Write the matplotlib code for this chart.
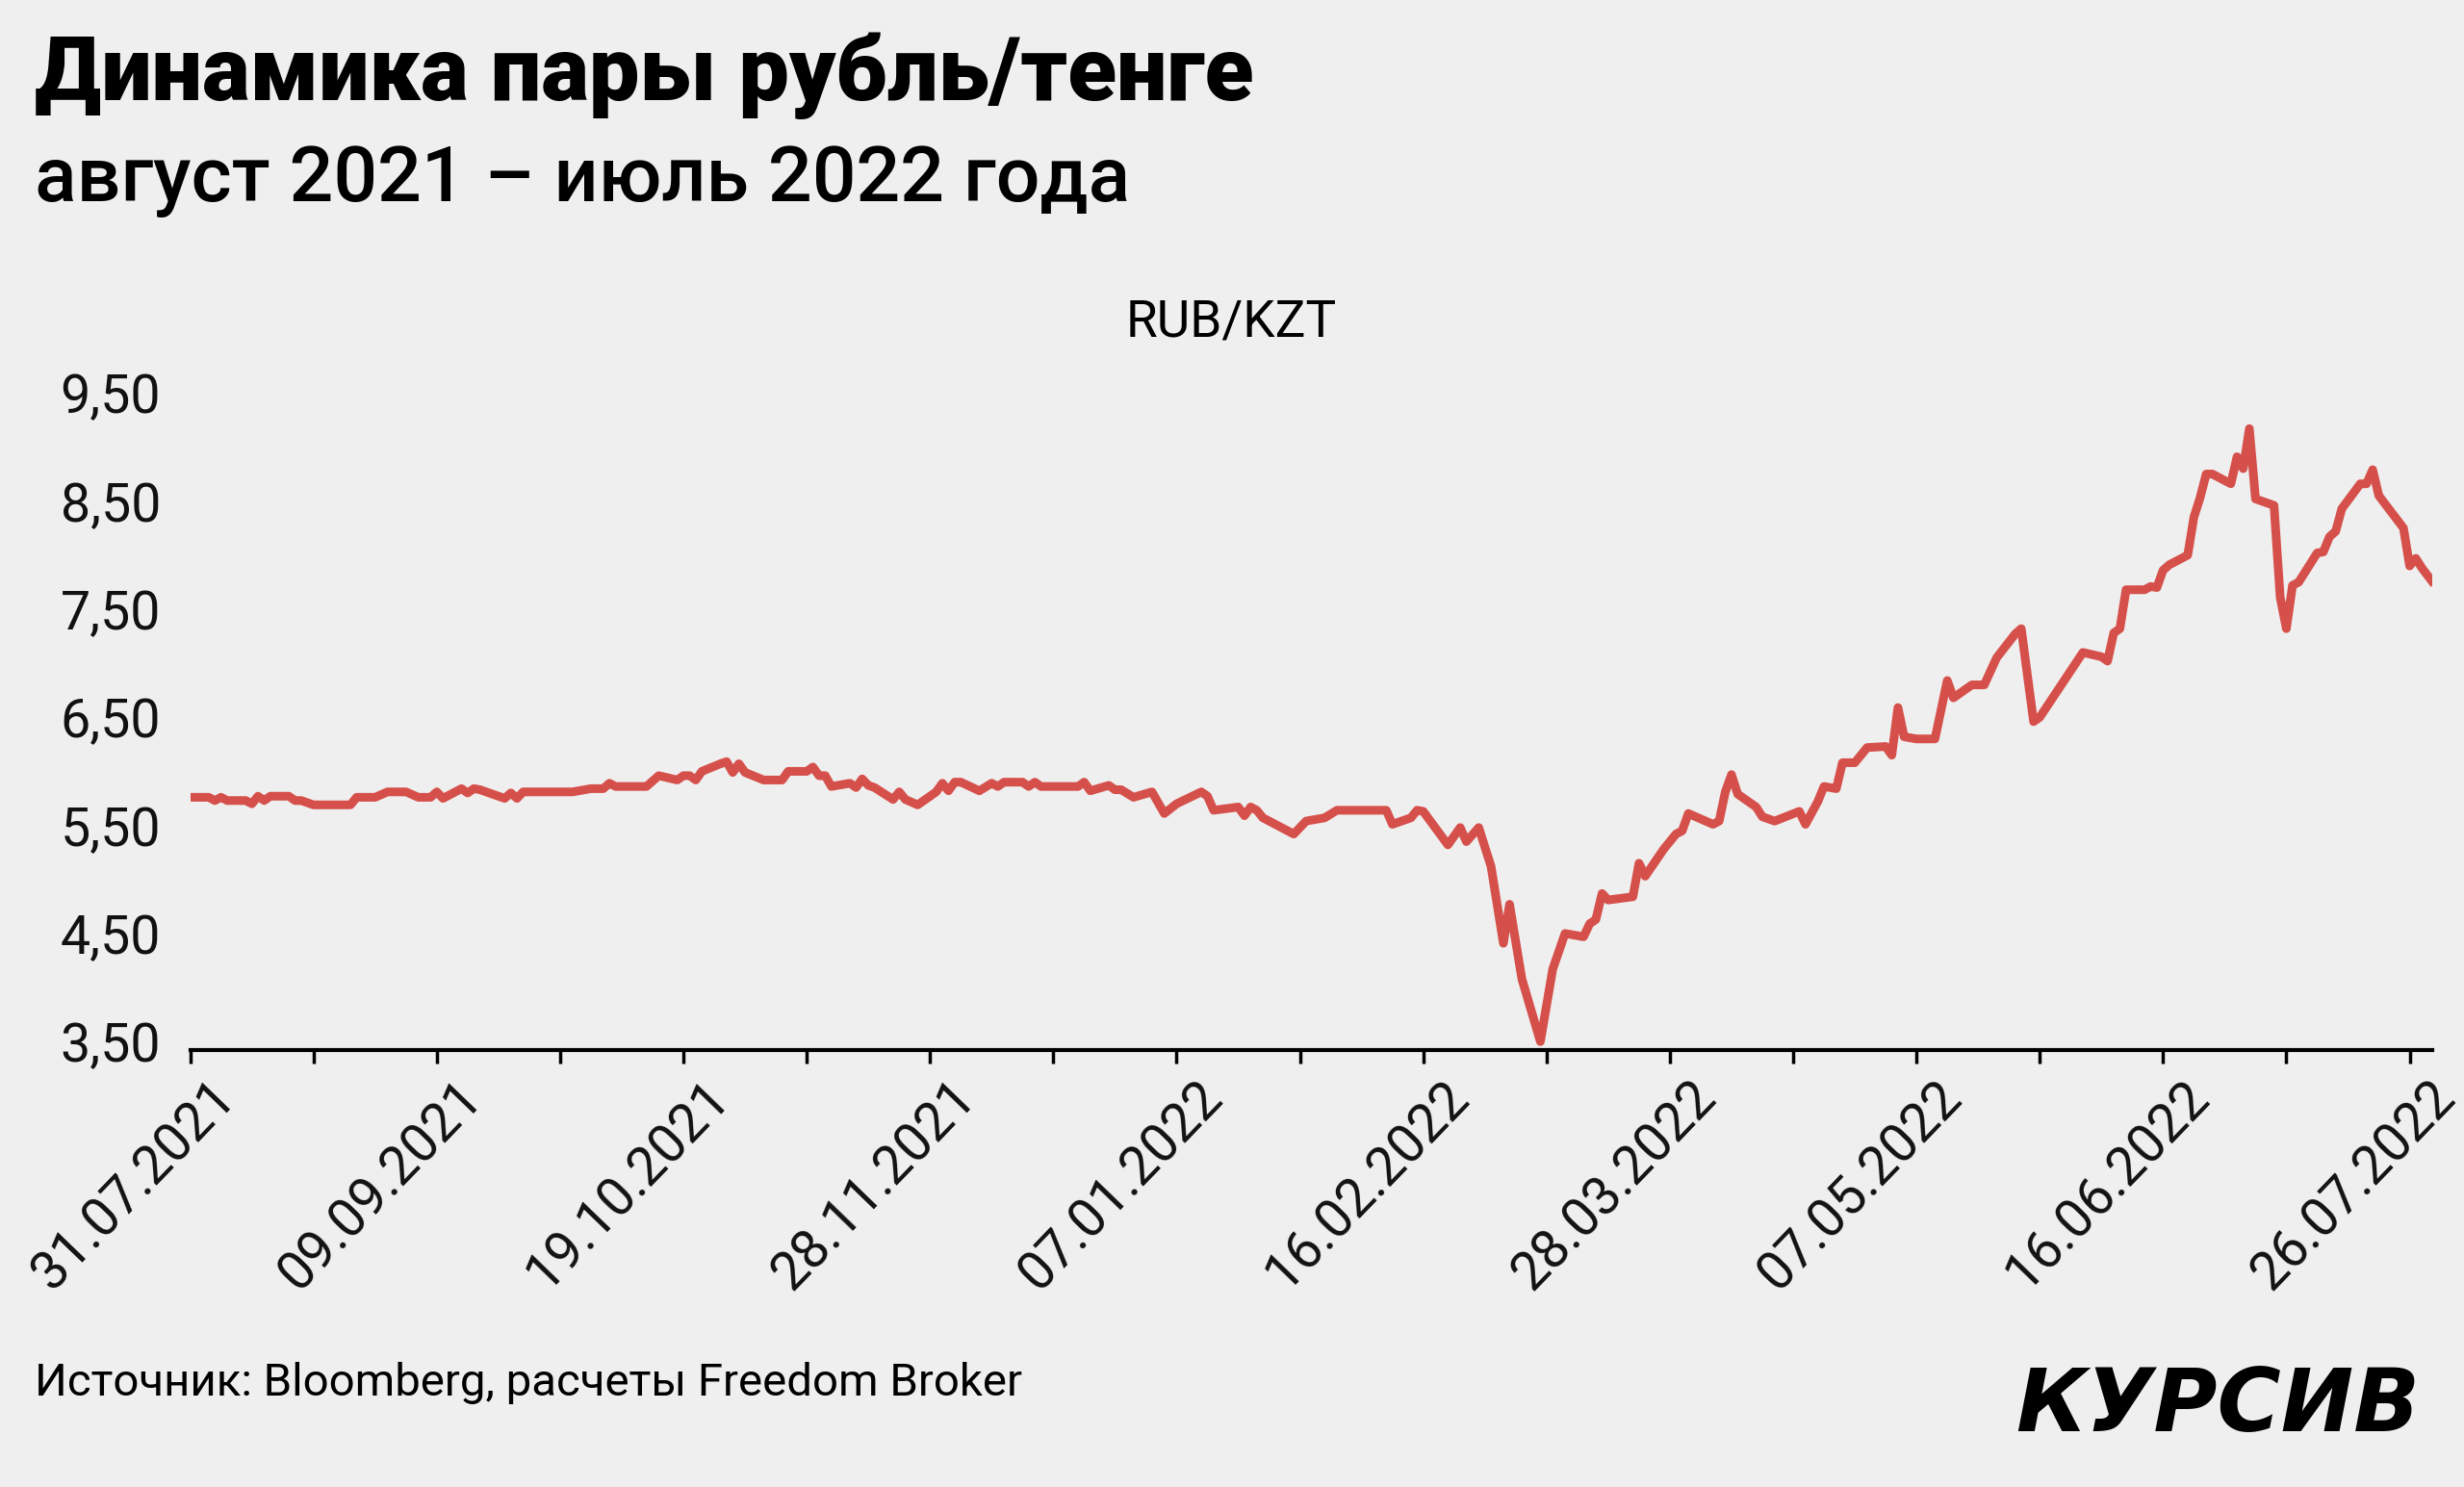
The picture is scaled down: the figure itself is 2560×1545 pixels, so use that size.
import datetime as dt
import numpy as np
import matplotlib
matplotlib.use("Agg")
import matplotlib.pyplot as plt
import matplotlib.dates as mdates
import matplotlib.transforms as mtransforms
from matplotlib import font_manager as fm

# ---------------- data ----------------
start_date = "2021-07-31"
day_offsets = [
    0, 3, 4, 5, 6, 9, 10, 11, 12, 13, 16, 17, 18, 20, 26, 27, 30, 32, 35, 37,
    39, 40, 41, 44, 45, 46, 47, 51, 52, 53, 54, 62, 65, 67, 68, 69, 74, 76,
    79, 80, 81, 82, 83, 86, 87, 88, 89, 90, 93, 96, 97, 100, 101, 102, 103, 104,
    107, 108, 109, 110, 111, 114, 115, 116, 118, 121, 122, 123, 124, 125, 128,
    130, 131, 132, 135, 136, 137, 138, 144, 145, 146, 149, 150, 151,
    153, 156, 158, 160, 164, 165, 166, 170, 171, 172, 173, 174, 177, 179, 181,
    184, 186, 194, 195, 198, 199, 200, 204, 206, 207, 209, 211, 213, 214, 216,
    219, 221, 223, 226, 227, 228, 229, 230, 234, 235, 236, 239, 241, 242, 243,
    247, 248, 249, 250, 251, 254, 255, 257, 261, 262, 264, 265, 267, 268, 270,
    272, 275, 276, 277, 278, 280, 283, 285, 286, 289, 291, 293, 296, 297, 299,
    300, 307, 310, 311, 312, 313, 314, 317, 318, 319, 320, 321, 324, 325, 326,
    327, 328, 331, 332, 333, 334, 335, 338, 339, 340, 341, 342, 345, 346, 347,
    348, 349, 352, 353, 354, 355, 359, 360, 361, 362, 364,
]
rub_kzt = [
    5.76, 5.76, 5.73, 5.76, 5.73, 5.73, 5.70, 5.77, 5.73, 5.77, 5.77, 5.73, 5.73, 5.69, 5.69, 5.76, 5.76, 5.81, 5.81, 5.76,
    5.76, 5.81, 5.75, 5.84, 5.80, 5.84, 5.83, 5.75, 5.80, 5.75, 5.81, 5.81, 5.84, 5.84, 5.89, 5.86, 5.86, 5.96,
    5.92, 5.96, 5.96, 5.92, 6.00, 6.07, 6.09, 5.99, 6.07, 5.99, 5.92, 5.92, 6.00, 6.00, 6.04, 5.96, 5.96, 5.86,
    5.89, 5.85, 5.93, 5.87, 5.85, 5.74, 5.81, 5.74, 5.69, 5.81, 5.89, 5.82, 5.90, 5.90, 5.82,
    5.89, 5.86, 5.90, 5.90, 5.86, 5.90, 5.86, 5.86, 5.90, 5.82, 5.87, 5.83, 5.83,
    5.76, 5.81, 5.61, 5.70, 5.81, 5.77, 5.64, 5.67, 5.59, 5.67, 5.64, 5.57, 5.48, 5.42, 5.54,
    5.57, 5.64, 5.64, 5.51, 5.57, 5.64, 5.63, 5.32, 5.48, 5.35, 5.48, 5.12, 4.41, 4.77, 4.08,
    3.50, 4.17, 4.50, 4.47, 4.59, 4.63, 4.87, 4.81, 4.84, 5.15, 5.03, 5.28, 5.42, 5.45, 5.61,
    5.51, 5.54, 5.81, 5.97, 5.79, 5.67, 5.58, 5.54, 5.63, 5.51, 5.72, 5.86, 5.84, 6.08, 6.08,
    6.22, 6.23, 6.15, 6.59, 6.32, 6.30, 6.30, 6.84, 6.68, 6.80, 6.80, 7.05, 7.27, 7.32, 6.46,
    6.50, 7.10, 7.06, 7.02, 7.28, 7.32, 7.68, 7.68, 7.71, 7.70, 7.86, 7.91, 8.00, 8.35, 8.53,
    8.75, 8.75, 8.66, 8.91, 8.80, 9.17, 8.52, 8.46, 7.61, 7.32, 7.72, 7.75, 8.02, 8.03, 8.17,
    8.22, 8.43, 8.66, 8.66, 8.79, 8.55, 8.25, 7.90, 7.97, 7.88, 7.73,
]
ytick_values = [3.5, 4.5, 5.5, 6.5, 7.5, 8.5, 9.5]
ytick_labels = ["3,50", "4,50", "5,50", "6,50", "7,50", "8,50", "9,50"]
xtick_labels = ["31.07.2021", "09.09.2021", "19.10.2021", "28.11.2021", "07.01.2022",
                "16.02.2022", "28.03.2022", "07.05.2022", "16.06.2022", "26.07.2022"]

title = "Динамика пары рубль/тенге"
subtitle = "август 2021 – июль 2022 года"
unit_label = "RUB/KZT"
source = "Источник: Bloomberg, расчеты Freedom Broker"
logo = "КУРСИВ"

# ---------------- style ----------------
BG = "#efefef"
RED = "#d6504b"

avail = {f.name for f in fm.fontManager.ttflist}


def pick(*names):
    for n in names:
        if n in avail:
            return n
    return "DejaVu Sans"


base_font = pick("Roboto", "Liberation Sans", "DejaVu Sans")
plt.rcParams["font.family"] = [base_font, "DejaVu Sans"]

fig = plt.figure(figsize=(25.6, 15.45), dpi=100, facecolor=BG)
ax = fig.add_axes([0.0772, 0.2937, 0.9100, 0.4493])
ax.set_facecolor(BG)

start = np.datetime64(start_date)
dates = start + np.array(day_offsets).astype("timedelta64[D]")
ax.plot(dates, rub_kzt, color=RED, lw=6.5, solid_joinstyle="round",
        solid_capstyle="butt", zorder=3)

# axes limits
x0 = mdates.date2num(start)
ax.set_xlim(x0, x0 + 363.7)
ax.set_ylim(3.42, 9.6)

# spines
for s in ["top", "right", "left"]:
    ax.spines[s].set_visible(False)
ax.spines["bottom"].set_linewidth(3.0)
ax.spines["bottom"].set_color("black")

# y ticks
ax.set_yticks(ytick_values)
ax.set_yticklabels(ytick_labels)
ax.tick_params(axis="y", length=0, pad=22, labelsize=40, labelcolor="#111111")

# x ticks
major = [mdates.date2num(dt.datetime.strptime(s, "%d.%m.%Y")) for s in xtick_labels]
minor = [m + 20 for m in major[:-1]]
ax.set_xticks(major)
ax.set_xticklabels(xtick_labels)
ax.set_xticks(minor, minor=True)
ax.tick_params(axis="x", which="both", direction="out", length=10, width=2.5,
               color="black")
ax.tick_params(axis="x", which="major", labelsize=40, pad=6, labelcolor="#111111")
shift = mtransforms.ScaledTranslation(0.2, 0.0, fig.dpi_scale_trans)
for lab in ax.get_xticklabels():
    lab.set_rotation(46)
    lab.set_ha("right")
    lab.set_va("top")
    lab.set_rotation_mode("anchor")
    lab.set_transform(lab.get_transform() + shift)

# ---------------- texts ----------------
t_title = fig.text(0.014, 0.933, title, fontsize=66, fontweight="black",
                   color="black", ha="left", va="baseline")
t_sub = fig.text(0.014, 0.8647, subtitle, fontsize=50, fontweight="medium",
                 color="black", ha="left", va="baseline")
t_unit = fig.text(0.4995, 0.774, unit_label, fontsize=38, color="black",
                  ha="center", va="baseline")
t_src = fig.text(0.014, 0.0615, source, fontsize=34, color="black",
                 ha="left", va="baseline")
t_logo = fig.text(0.982, 0.0375, logo, fontsize=60, fontweight="bold",
                  fontstyle="oblique", family=["DejaVu Sans"], color="black",
                  ha="right", va="baseline")

# fit text widths to the reference
renderer = fig.canvas.get_renderer()
targets = [(t_title, 1265), (t_sub, 1140), (t_unit, 219), (t_src, 1025), (t_logo, 420)]
for t, w in targets:
    for _ in range(2):
        cur = t.get_window_extent(renderer).width
        if cur > 0:
            t.set_fontsize(t.get_fontsize() * w / cur)

fig.savefig("out.png", dpi=100, facecolor=BG)
